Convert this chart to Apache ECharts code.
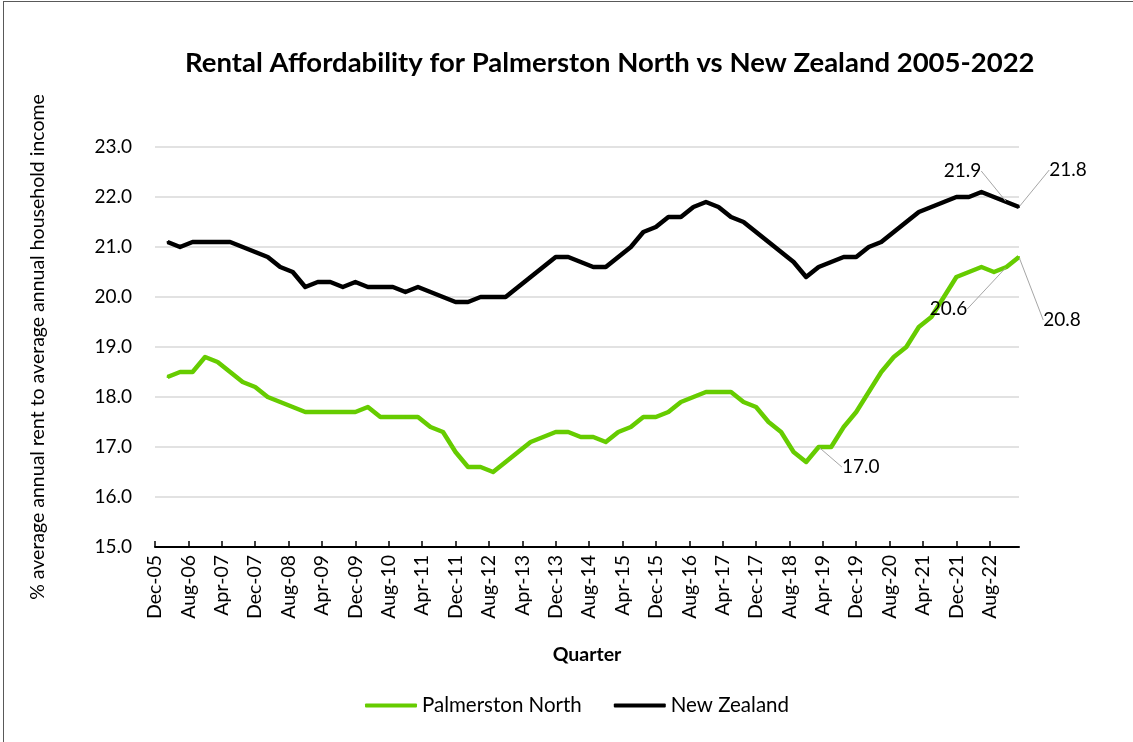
<!DOCTYPE html>
<html>
<head>
<meta charset="utf-8">
<script src="https://cdn.jsdelivr.net/npm/echarts@6/dist/echarts.min.js"></script>
<style>
  html, body { margin: 0; padding: 0; background: #fff; }
  #chart { position: absolute; left: 0; top: 0; width: 1133px; height: 742px; }
  #frame { position: absolute; left: 3px; top: 1px; width: 1200px; height: 800px;
           border-left: 1px solid #595959; border-top: 1px solid #595959; pointer-events: none; }
</style>
</head>
<body>
<div id="chart"></div>
<div id="frame"></div>
<script>
// axis runs monthly from Dec-05 to Mar-23, values are quarterly (Mar-06 .. Mar-23)
const monthNames = ['Jan', 'Feb', 'Mar', 'Apr', 'May', 'Jun', 'Jul', 'Aug', 'Sep', 'Oct', 'Nov', 'Dec'];
const axisStart = { year: 2005, month: 11 };   // Dec-05
const axisMonths = 208;                         // Dec-05 .. Mar-23
const firstQuarterOffset = 3;                   // Mar-06
const quarterStep = 3;

const palmerstonNorth = [
  18.4, 18.5, 18.5, 18.8, 18.7, 18.5, 18.3, 18.2, 18.0, 17.9,
  17.8, 17.7, 17.7, 17.7, 17.7, 17.7, 17.8, 17.6, 17.6, 17.6,
  17.6, 17.4, 17.3, 16.9, 16.6, 16.6, 16.5, 16.7, 16.9, 17.1,
  17.2, 17.3, 17.3, 17.2, 17.2, 17.1, 17.3, 17.4, 17.6, 17.6,
  17.7, 17.9, 18.0, 18.1, 18.1, 18.1, 17.9, 17.8, 17.5, 17.3,
  16.9, 16.7, 17.0, 17.0, 17.4, 17.7, 18.1, 18.5, 18.8, 19.0,
  19.4, 19.6, 20.0, 20.4, 20.5, 20.6, 20.5, 20.6, 20.8
];
const newZealand = [
  21.1, 21.0, 21.1, 21.1, 21.1, 21.1, 21.0, 20.9, 20.8, 20.6,
  20.5, 20.2, 20.3, 20.3, 20.2, 20.3, 20.2, 20.2, 20.2, 20.1,
  20.2, 20.1, 20.0, 19.9, 19.9, 20.0, 20.0, 20.0, 20.2, 20.4,
  20.6, 20.8, 20.8, 20.7, 20.6, 20.6, 20.8, 21.0, 21.3, 21.4,
  21.6, 21.6, 21.8, 21.9, 21.8, 21.6, 21.5, 21.3, 21.1, 20.9,
  20.7, 20.4, 20.6, 20.7, 20.8, 20.8, 21.0, 21.1, 21.3, 21.5,
  21.7, 21.8, 21.9, 22.0, 22.0, 22.1, 22.0, 21.9, 21.8
];

// quarter indexes that carry a data label, with label offset from the point
const pnLabels = { 52: [42, 20], 67: [-58, 42], 68: [43, 63] };
const nzLabels = { 67: [-44, -31], 68: [49, -37] };

const categories = [];
for (let i = 0; i < axisMonths; i++) {
  const m = axisStart.month + i;
  const y = axisStart.year + Math.floor(m / 12);
  categories.push(monthNames[m % 12] + '-' + String(y % 100).padStart(2, '0'));
}

function toMonthly(values, labels) {
  const out = new Array(axisMonths).fill('-');
  values.forEach((v, q) => {
    const idx = firstQuarterOffset + q * quarterStep;
    out[idx] = labels[q] ? { value: v, label: { show: true } } : v;
  });
  return out;
}

function offsetsByIndex(labels) {
  const map = {};
  Object.keys(labels).forEach((q) => {
    map[firstQuarterOffset + Number(q) * quarterStep] = labels[q];
  });
  return map;
}

const font = 'Lato, "Open Sans", sans-serif';

function lineSeries(name, color, values, labels) {
  const offsets = offsetsByIndex(labels);
  return {
    name,
    type: 'line',
    data: toMonthly(values, labels),
    connectNulls: true,
    showSymbol: true,
    symbol: 'circle',
    symbolSize: 2,
    itemStyle: { color },
    lineStyle: { color, width: 4.5, join: 'round' },
    label: {
      show: false,
      position: 'inside',
      fontFamily: font,
      fontSize: 19,
      color: '#000',
      formatter: (p) => Number(p.value).toFixed(1)
    },
    labelLine: { show: true, lineStyle: { color: '#a6a6a6', width: 1 } },
    labelLayout: (p) => {
      const off = offsets[p.dataIndex];
      return off ? { dx: off[0], dy: off[1] } : {};
    },
    emphasis: { disabled: true },
    animation: false
  };
}

const chart = echarts.init(document.getElementById('chart'));
chart.setOption({
  backgroundColor: '#fff',
  title: {
    text: 'Rental Affordability for Palmerston North vs New Zealand 2005-2022',
    left: 180,
    top: 44,
    textStyle: { fontFamily: font, fontWeight: 'bold', fontSize: 27.5, color: '#000' }
  },
  legend: {
    bottom: 21,
    left: 360,
    icon: 'roundRect',
    itemWidth: 52,
    itemHeight: 4,
    itemGap: 32,
    textStyle: { fontFamily: font, fontSize: 20.5, color: '#000' },
    data: ['Palmerston North', 'New Zealand']
  },
  grid: { left: 155, right: 114, top: 147, bottom: 195 },
  xAxis: {
    type: 'category',
    data: categories,
    boundaryGap: false,
    name: 'Quarter',
    nameLocation: 'middle',
    nameGap: 98,
    nameTextStyle: { fontFamily: font, fontWeight: 'bold', fontSize: 19.5, color: '#000' },
    axisLine: { lineStyle: { color: '#000', width: 2 } },
    axisTick: { inside: true, length: 6, interval: 7, lineStyle: { color: '#000', width: 1.5 } },
    axisLabel: {
      interval: 7,
      rotate: 90,
      margin: 8,
      fontFamily: font,
      fontSize: 19.5,
      color: '#000'
    },
    splitLine: { show: false }
  },
  yAxis: {
    type: 'value',
    min: 15,
    max: 23,
    interval: 1,
    name: '% average annual rent to average annual household income',
    nameLocation: 'middle',
    nameGap: 107,
    nameTextStyle: { fontFamily: font, fontSize: 19.5, color: '#000' },
    axisLine: { show: false },
    axisTick: { show: false },
    axisLabel: {
      margin: 23,
      fontFamily: font,
      fontSize: 19,
      color: '#000',
      formatter: (v) => v.toFixed(1)
    },
    splitLine: { lineStyle: { color: '#d9d9d9', width: 1.5 } }
  },
  series: [
    lineSeries('Palmerston North', '#66CC00', palmerstonNorth, pnLabels),
    lineSeries('New Zealand', '#000000', newZealand, nzLabels)
  ]
});
</script>
</body>
</html>
